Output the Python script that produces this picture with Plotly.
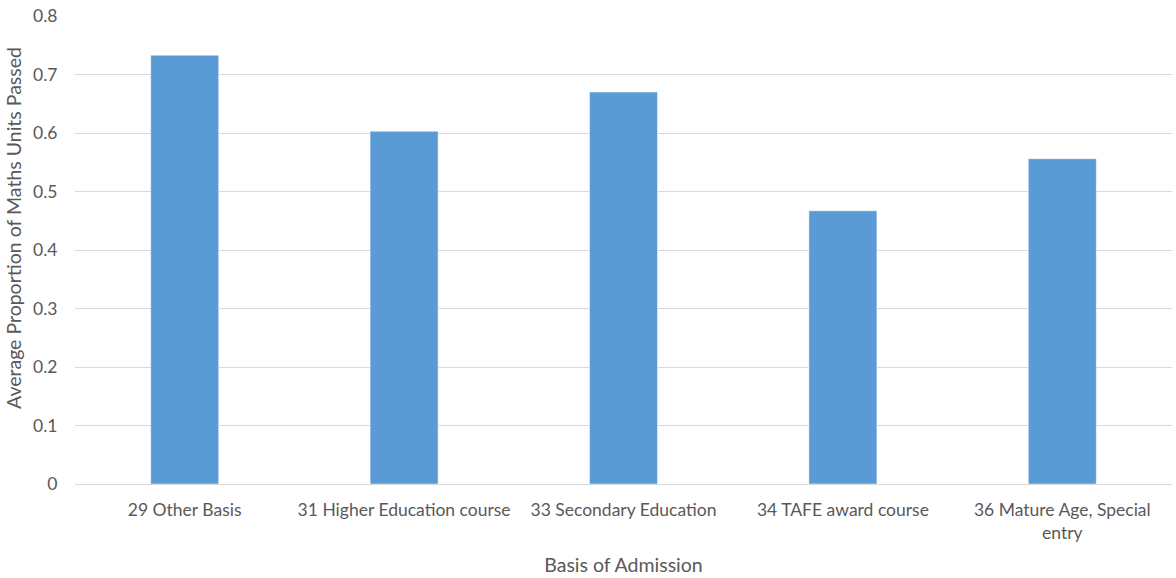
import plotly.graph_objects as go

categories = ["29 Other Basis", "31 Higher Education course", "33 Secondary Education",
              "34 TAFE award course", "36 Mature Age, Special<br>entry"]
values = [0.733, 0.603, 0.670, 0.467, 0.556]
y_ticks = [0, 0.1, 0.2, 0.3, 0.4, 0.5, 0.6, 0.7, 0.8]
y_tick_labels = ["0", "0.1", "0.2", "0.3", "0.4", "0.5", "0.6", "0.7", "0.8"]
y_title = "Average Proportion of Maths Units Passed"
x_title = "Basis of Admission"

fig = go.Figure(go.Bar(
    x=categories, y=values,
    marker=dict(color="#5b9bd5", line=dict(color="#ffffff", width=0.5)),
    width=0.31,
))

font_family = "Lato, Open Sans, sans-serif"
fig.update_layout(
    width=1176, height=578,
    margin=dict(l=75, r=4, t=16, b=94),
    paper_bgcolor="white", plot_bgcolor="white",
    font=dict(family=font_family, size=17.5, color="#595959"),
    showlegend=False,
    xaxis=dict(
        title=dict(text=x_title, font=dict(size=19.5, color="#595959"), standoff=16),
        showgrid=False, showline=False, zeroline=False,
        ticks="outside", ticklen=10, tickcolor="rgba(0,0,0,0)",
        tickfont=dict(size=17.5, color="#595959"),
    ),
    yaxis=dict(
        range=[0, 0.8], tickvals=y_ticks, ticktext=y_tick_labels,
        showgrid=True, gridcolor="#d9d9d9", gridwidth=1,
        zeroline=True, zerolinecolor="#d9d9d9", zerolinewidth=1,
        showline=False,
        ticks="outside", ticklen=13, tickcolor="rgba(0,0,0,0)",
        tickfont=dict(size=17.5, color="#595959"),
    ),
    annotations=[dict(
        text=y_title, textangle=-90, showarrow=False,
        xref="paper", yref="paper", x=0, y=0.547, xshift=-62,
        xanchor="center", yanchor="middle",
        font=dict(size=19.5, color="#595959", family=font_family),
    )],
)

fig.write_html("out.html")
